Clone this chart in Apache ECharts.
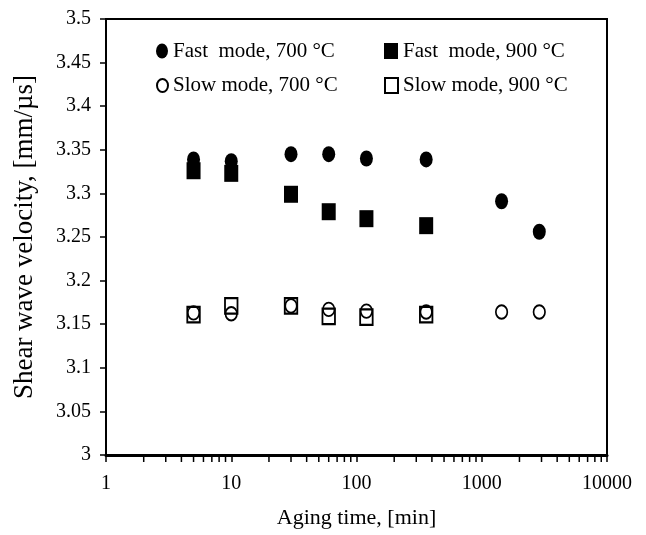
<!DOCTYPE html>
<html>
<head>
<meta charset="utf-8">
<script src="https://cdn.jsdelivr.net/npm/echarts@6/dist/echarts.min.js"></script>
<style>html,body{margin:0;padding:0;background:#fff}#c{width:646px;height:535px}</style>
</head>
<body>
<div id="c"></div>
<script>
// Aging times [min]
const agingFast700 = [5, 10, 30, 60, 120, 360, 1440, 2880];
const fast700 = [3.339, 3.337, 3.345, 3.345, 3.340, 3.339, 3.291, 3.256];
const agingFast900 = [5, 10, 30, 60, 120, 360];
const fast900 = [3.326, 3.323, 3.299, 3.279, 3.271, 3.263];
const agingSlow700 = [5, 10, 30, 60, 120, 360, 1440, 2880];
const slow700 = [3.163, 3.162, 3.171, 3.167, 3.165, 3.164, 3.164, 3.164];
const agingSlow900 = [5, 10, 30, 60, 120, 360];
const slow900 = [3.161, 3.171, 3.171, 3.159, 3.158, 3.161];
const seriesNames = ['Fast  mode, 700 °C', 'Fast  mode, 900 °C', 'Slow mode, 700 °C', 'Slow mode, 900 °C'];
const minorTickValues = [2,3,4,5,6,7,8,9,20,30,40,50,60,70,80,90,200,300,400,500,600,700,800,900,2000,3000,4000,5000,6000,7000,8000,9000];
const xMin = 1, xMax = 10000, yMin = 3, yMax = 3.5, yStep = 0.05;

const FONT = 'Liberation Serif';
const ELLIPSE = 'path://M0,-1A1,1,0,1,1,0,1A1,1,0,1,1,0,-1Z';
const zip = (xs, ys) => xs.map((x, i) => [x, ys[i]]);

const chart = echarts.init(document.getElementById('c'), null, {renderer: 'canvas'});
const legendBase = {padding: 0, selectedMode: false, orient: 'horizontal', symbolKeepAspect: false,
  textStyle: {fontFamily: FONT, fontSize: 21, color: '#000'}};
chart.setOption({
  animation: false,
  backgroundColor: '#fff',
  grid: {left: 106, right: 39, top: 19, bottom: 80, show: true, borderColor: '#000', borderWidth: 2, containLabel: false, outerBoundsMode: 'none'},
  legend: [
    Object.assign({}, legendBase, {data: [seriesNames[0]], left: 156, top: 40.5, itemWidth: 12, itemHeight: 15}),
    Object.assign({}, legendBase, {data: [seriesNames[1]], left: 384, top: 40.5, itemWidth: 14, itemHeight: 16}),
    Object.assign({}, legendBase, {data: [seriesNames[2]], left: 156, top: 75, itemWidth: 11, itemHeight: 13}),
    Object.assign({}, legendBase, {data: [seriesNames[3]], left: 384, top: 75, itemWidth: 13, itemHeight: 15})
  ],
  xAxis: {
    type: 'log', logBase: 10, min: xMin, max: xMax,
    name: 'Aging time, [min]', nameLocation: 'middle', nameGap: 52,
    nameTextStyle: {fontFamily: FONT, fontSize: 22, color: '#000'},
    axisLine: {show: true, onZero: false, lineStyle: {color: '#000', width: 3}},
    axisTick: {show: true, inside: false, length: 7, lineStyle: {color: '#000', width: 1.5}},
    axisLabel: {show: true, margin: 19, fontFamily: FONT, fontSize: 20, color: '#000',
      formatter: v => String(Math.round(v))},
    splitLine: {show: false}, minorTick: {show: false}, minorSplitLine: {show: false}
  },
  yAxis: {
    type: 'value', min: yMin, max: yMax, interval: yStep,
    name: 'Shear wave velocity, [mm/µs]', nameLocation: 'middle', nameGap: 68,
    nameTextStyle: {fontFamily: FONT, fontSize: 27, color: '#000'},
    axisLine: {show: true, onZero: false, lineStyle: {color: '#000', width: 2}},
    axisTick: {show: true, inside: false, length: 6, lineStyle: {color: '#000', width: 1.5}},
    axisLabel: {show: true, margin: 15, fontFamily: FONT, fontSize: 20, color: '#000'},
    splitLine: {show: false}
  },
  series: [
    {name: seriesNames[1], type: 'scatter', data: zip(agingFast900, fast900), symbol: 'rect', symbolSize: [14, 17],
      itemStyle: {color: '#000', opacity: 1}, z: 2},
    {name: seriesNames[0], type: 'scatter', data: zip(agingFast700, fast700), symbol: ELLIPSE, symbolSize: [13, 16],
      itemStyle: {color: '#000', opacity: 1}, z: 3},
    {name: seriesNames[2], type: 'scatter', data: zip(agingSlow700, slow700), symbol: ELLIPSE, symbolSize: [11.5, 13.5],
      itemStyle: {color: 'rgba(255,255,255,0)', borderColor: '#000', borderWidth: 1.8, opacity: 1}, z: 2},
    {name: seriesNames[3], type: 'scatter', data: zip(agingSlow900, slow900), symbol: 'rect', symbolSize: [12.5, 15.5],
      itemStyle: {color: 'rgba(255,255,255,0)', borderColor: '#000', borderWidth: 2, opacity: 1}, z: 3},
    {name: 'minorTicks', type: 'custom', clip: false, silent: true, z: 5,
      data: minorTickValues.map(v => [v, yMin]),
      renderItem: function (params, api) {
        const p = api.coord([api.value(0), api.value(1)]);
        return {type: 'line', shape: {x1: p[0], y1: p[1] + 1, x2: p[0], y2: p[1] + 7},
          style: {stroke: '#000', lineWidth: 1.5}};
      }}
  ]
});
</script>
</body>
</html>
